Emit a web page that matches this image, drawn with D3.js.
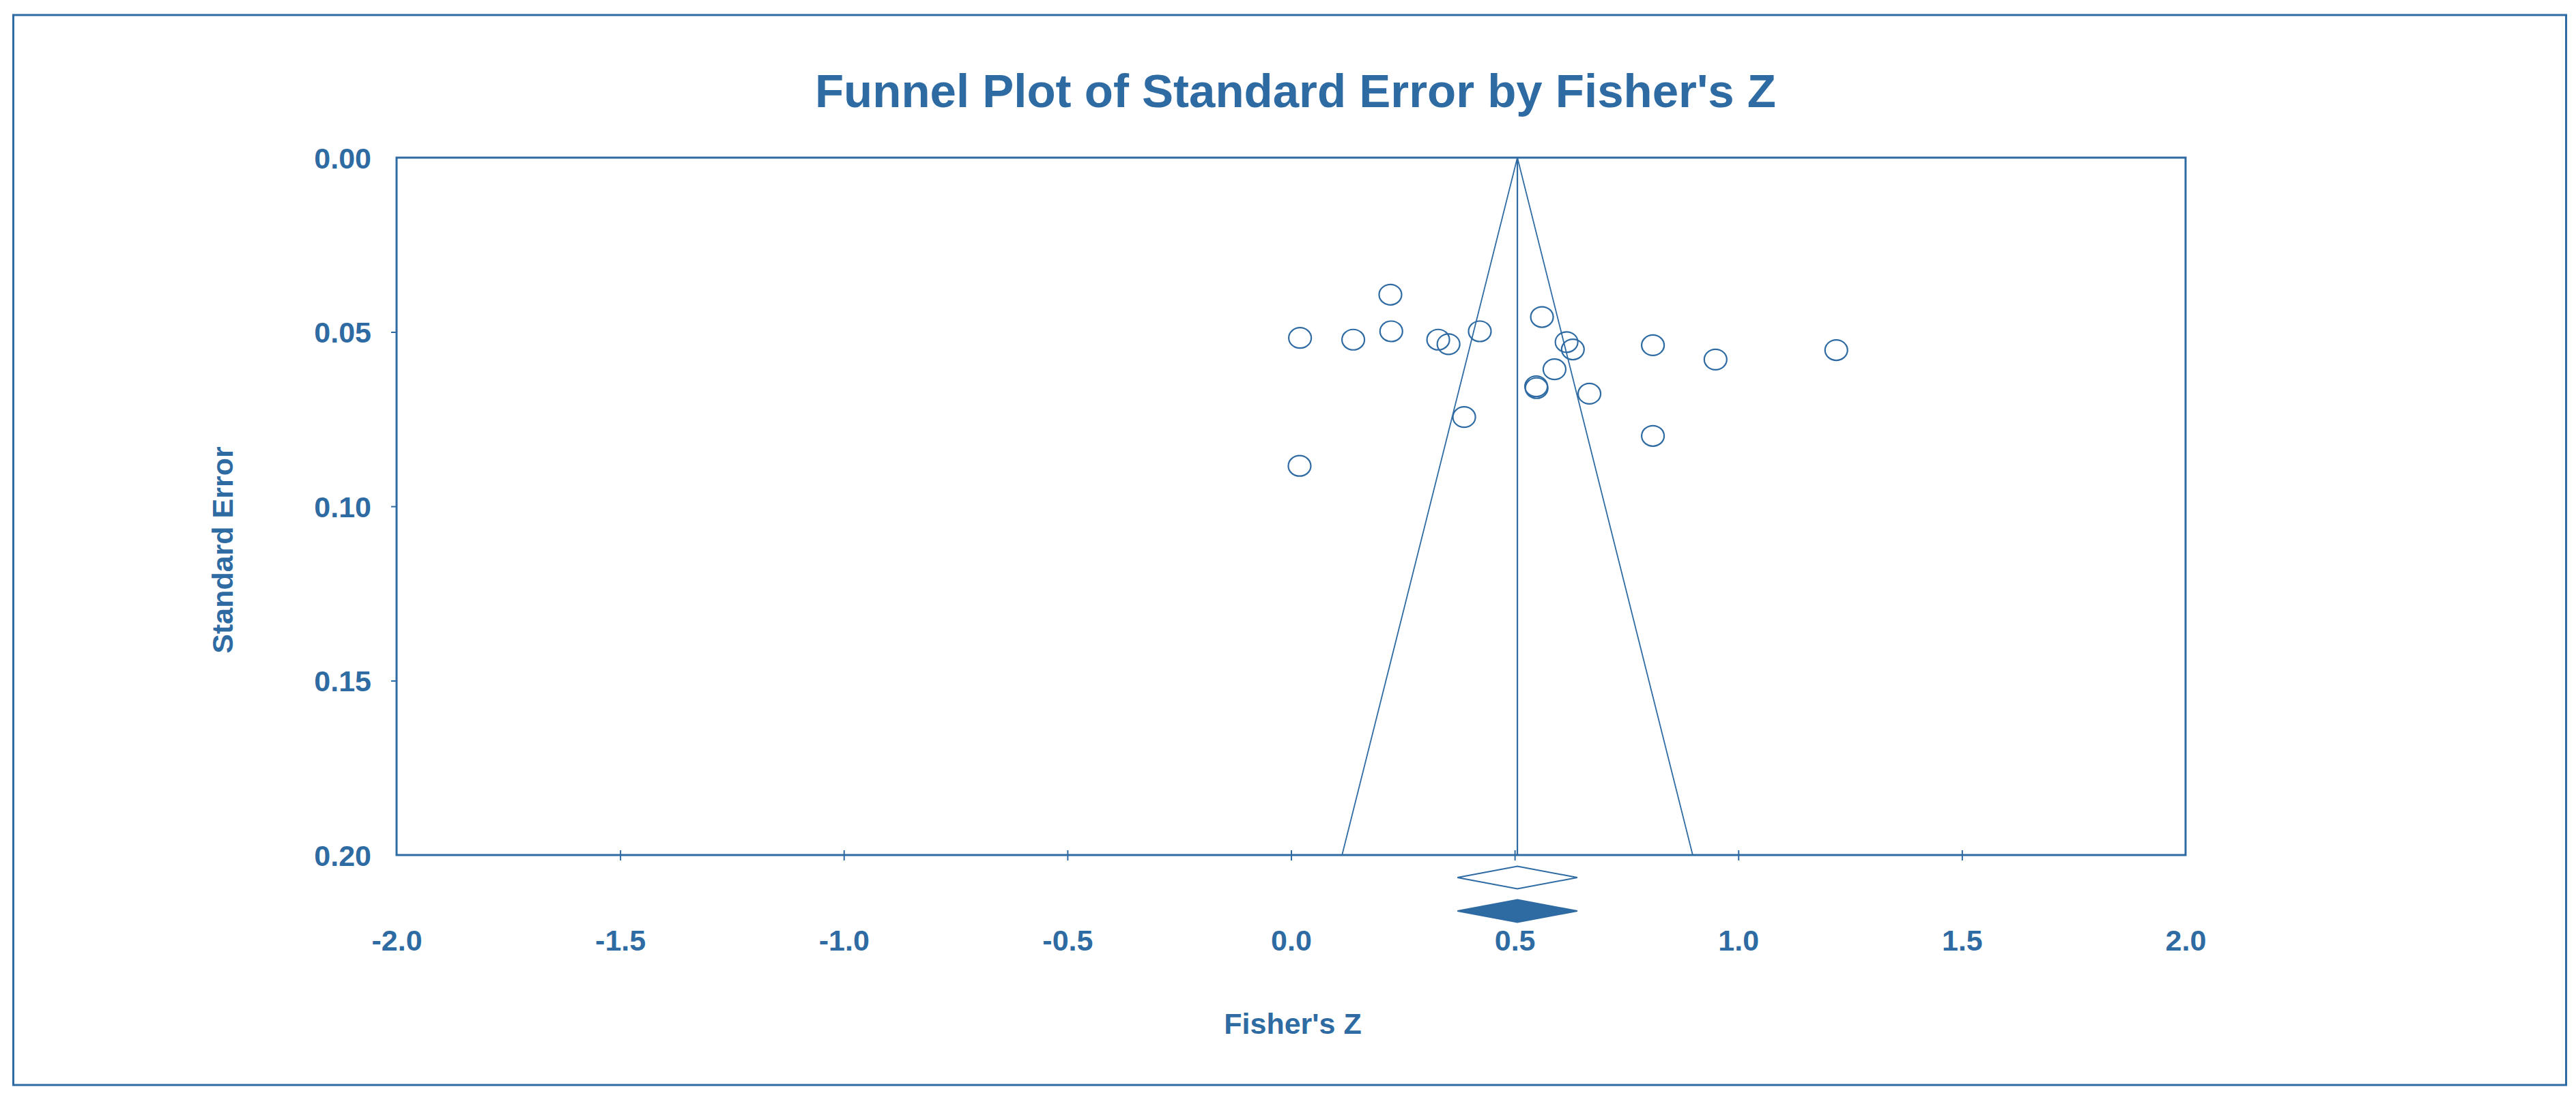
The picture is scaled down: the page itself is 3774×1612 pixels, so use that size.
<!DOCTYPE html>
<html>
<head>
<meta charset="utf-8">
<script src="https://cdn.jsdelivr.net/npm/d3@7"></script>
<style>
  body { margin: 0; background: #fff; }
  text { font-family: "Liberation Sans", Arial, sans-serif; font-weight: bold; fill: #2f6ba3; }
</style>
</head>
<body>
<svg id="chart"></svg>
<script>
// study effects (Fisher's Z) and their standard errors
const fisherZ = [0.222, 0.224, 0.329, 0.352, 0.422, 0.561, 0.616, 0.630, 0.589, 0.548, 0.549,
                 0.667, 0.387, 0.020, 0.139, 0.809, 0.949, 1.219, 0.809, 0.019];
const stdErr  = [0.0393, 0.0498, 0.0522, 0.0535, 0.0498, 0.0457, 0.0529, 0.0550, 0.0607, 0.0656, 0.0661,
                 0.0677, 0.0744, 0.0517, 0.0522, 0.0538, 0.0579, 0.0552, 0.0798, 0.0884];

// summary estimate (observed, imputed) with 95% limits
const summaryLabels = ["observed", "imputed"];
const summaryPoint = [0.506, 0.506];
const summaryLower = [0.372, 0.372];
const summaryUpper = [0.640, 0.640];

const xTicks = [-2.0, -1.5, -1.0, -0.5, 0.0, 0.5, 1.0, 1.5, 2.0];
const yTicks = [0.00, 0.05, 0.10, 0.15, 0.20];

var svgWidth = 3774, svgHeight = 1612;
var color = "#2f6ba3";
var plotLeft = 581, plotRight = 3202, plotTop = 231, plotBottom = 1253;

var svg = d3.select("#chart")
    .attr("width", svgWidth)
    .attr("height", svgHeight);

// outer frame
svg.append("rect")
    .attr("x", 19.5).attr("y", 22)
    .attr("width", 3740).attr("height", 1568)
    .attr("fill", "none").attr("stroke", color).attr("stroke-width", 3);

var x = d3.scaleLinear().domain([-2, 2]).range([plotLeft, plotRight]);
var y = d3.scaleLinear().domain([0, 0.2]).range([plotTop, plotBottom]);

// title
svg.append("text")
    .attr("x", 1898).attr("y", 157)
    .attr("text-anchor", "middle")
    .style("font-size", "69px")
    .text("Funnel Plot of Standard Error by Fisher's Z");

// plot box
svg.append("rect")
    .attr("x", plotLeft).attr("y", plotTop)
    .attr("width", plotRight - plotLeft).attr("height", plotBottom - plotTop)
    .attr("fill", "none").attr("stroke", color).attr("stroke-width", 3);

// x axis
var xAxis = svg.append("g")
    .attr("transform", "translate(0," + plotBottom + ")")
    .call(d3.axisBottom(x).tickValues(xTicks).tickSize(8)
      .tickFormat(function(d) { return d.toFixed(1); }));
xAxis.select(".domain").remove();
xAxis.selectAll(".tick line")
    .attr("y1", -7).attr("stroke", color).attr("stroke-width", 2)
    .attr("display", function(d) { return (d == -2 || d == 2) ? "none" : null; });
xAxis.selectAll(".tick text")
    .attr("y", 140).attr("dy", null)
    .attr("fill", color)
    .style("font-size", "43px");

// y axis
var yAxis = svg.append("g")
    .attr("transform", "translate(" + plotLeft + ",0)")
    .call(d3.axisLeft(y).tickValues(yTicks).tickSize(8).tickPadding(29)
      .tickFormat(function(d) { return d.toFixed(2); }));
yAxis.select(".domain").remove();
yAxis.selectAll(".tick line")
    .attr("stroke", color).attr("stroke-width", 2)
    .attr("display", function(d) { return (d == 0 || d == 0.2) ? "none" : null; });
yAxis.selectAll(".tick text")
    .attr("dy", "0.35em")
    .attr("fill", color)
    .style("font-size", "43px");

// axis titles
svg.append("text")
    .attr("transform", "translate(341,806) rotate(-90)")
    .attr("text-anchor", "middle")
    .style("font-size", "43px")
    .text("Standard Error");

svg.append("text")
    .attr("x", 1894).attr("y", 1515)
    .attr("text-anchor", "middle")
    .style("font-size", "43px")
    .text("Fisher's Z");

// funnel
var line = d3.line().x(function(d) { return x(d[0]); }).y(function(d) { return y(d[1]); });
var mid = summaryPoint[0];
var seMax = 0.2;
svg.append("path")
    .attr("d", line([[mid - 1.96 * seMax, seMax], [mid, 0], [mid + 1.96 * seMax, seMax]]))
    .attr("fill", "none").attr("stroke", color).attr("stroke-width", 1.8);
svg.append("path")
    .attr("d", line([[mid, 0], [mid, seMax]]))
    .attr("fill", "none").attr("stroke", color).attr("stroke-width", 2.2);

// studies
svg.selectAll("ellipse.study")
    .data(fisherZ)
    .enter()
    .append("ellipse")
    .attr("class", "study")
    .attr("cx", function(d) { return x(d); })
    .attr("cy", function(d, i) { return y(stdErr[i]); })
    .attr("rx", 16.5)
    .attr("ry", 15)
    .attr("fill", "none")
    .attr("stroke", color)
    .attr("stroke-width", 2.2);

// summary diamonds below the axis
var diamondRows = [1286, 1335], halfH = 16.5;
svg.selectAll("path.diamond")
    .data(summaryLabels)
    .enter()
    .append("path")
    .attr("class", "diamond")
    .attr("d", function(d, i) {
      var cy = diamondRows[i];
      return "M" + x(summaryLower[i]) + "," + cy +
             "L" + x(summaryPoint[i]) + "," + (cy - halfH) +
             "L" + x(summaryUpper[i]) + "," + cy +
             "L" + x(summaryPoint[i]) + "," + (cy + halfH) + "Z";
    })
    .attr("fill", function(d) { return d == "imputed" ? color : "#fff"; })
    .attr("stroke", color)
    .attr("stroke-width", 2);
</script>
</body>
</html>
